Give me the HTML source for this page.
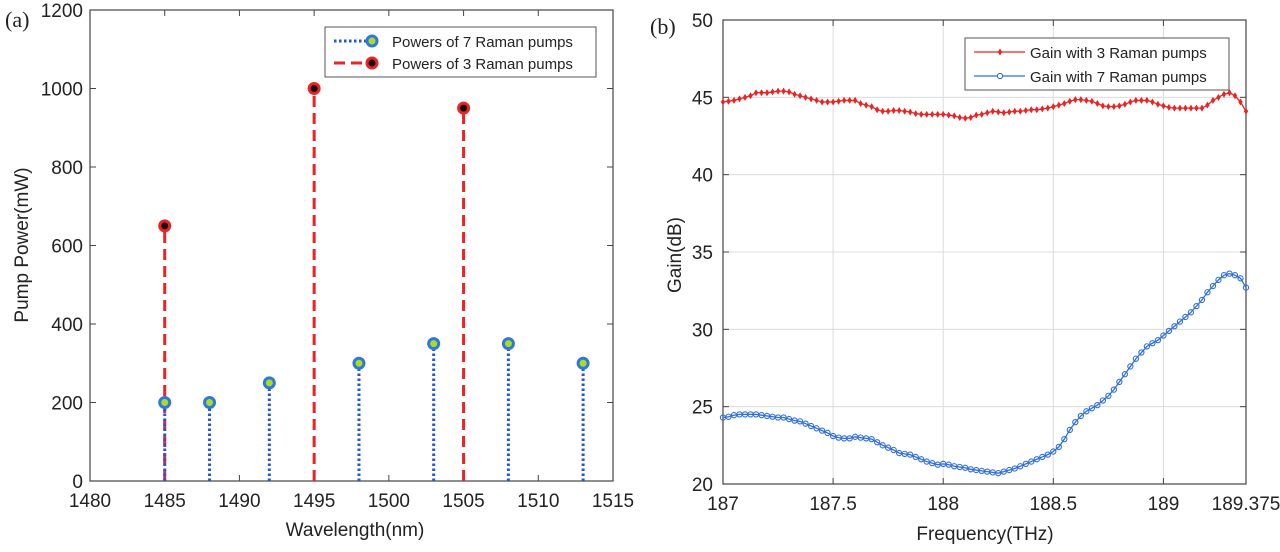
<!DOCTYPE html>
<html><head><meta charset="utf-8"><style>
html,body{margin:0;padding:0;background:#fff;width:1280px;height:552px;overflow:hidden}
svg{display:block;font-family:"Liberation Sans",sans-serif}
</style></head><body>
<svg id="fig" width="1280" height="552" viewBox="0 0 1280 552" xmlns="http://www.w3.org/2000/svg"></svg>
<script>
// ---- Chart (a) data ----
const wl7 = [1485, 1488, 1492, 1498, 1503, 1508, 1513];
const pw7 = [200, 200, 250, 300, 350, 350, 300];
const wl3 = [1485, 1495, 1505];
const pw3 = [650, 1000, 950];
const xTicksA = [1480, 1485, 1490, 1495, 1500, 1505, 1510, 1515];
const yTicksA = [0, 200, 400, 600, 800, 1000, 1200];
// ---- Chart (b) data ----
const freqStart = 187, freqStep = 0.025;
const gain3 = [44.7,44.75,44.8,44.9,45.0,45.1,45.3,45.3,45.3,45.35,45.4,45.4,45.35,45.2,45.1,45.0,44.9,44.8,44.7,44.7,44.7,44.75,44.8,44.8,44.8,44.6,44.5,44.4,44.2,44.1,44.1,44.15,44.15,44.1,44.05,43.95,43.9,43.9,43.9,43.9,43.9,43.85,43.8,43.7,43.65,43.7,43.85,43.9,44.0,44.1,44.05,44.0,44.05,44.1,44.1,44.15,44.2,44.2,44.25,44.3,44.4,44.5,44.6,44.75,44.85,44.85,44.8,44.75,44.6,44.45,44.4,44.4,44.45,44.55,44.7,44.8,44.8,44.8,44.7,44.55,44.45,44.35,44.3,44.3,44.3,44.3,44.3,44.3,44.5,44.8,45.0,45.2,45.3,45.1,44.7,44.1];
const gain7 = [24.3,24.35,24.45,24.5,24.5,24.5,24.5,24.45,24.4,24.35,24.3,24.3,24.2,24.1,24.05,23.9,23.75,23.6,23.45,23.3,23.1,23.0,22.95,22.95,23.05,23.0,22.95,22.9,22.7,22.5,22.35,22.2,22.0,21.95,21.9,21.75,21.6,21.45,21.35,21.25,21.3,21.25,21.15,21.1,21.05,20.95,20.9,20.85,20.8,20.75,20.7,20.8,20.9,21.0,21.15,21.3,21.45,21.6,21.75,21.9,22.1,22.4,22.9,23.5,24.0,24.4,24.7,24.9,25.1,25.4,25.7,26.1,26.6,27.1,27.6,28.1,28.5,28.9,29.1,29.3,29.6,29.9,30.2,30.5,30.8,31.1,31.5,31.9,32.4,32.8,33.2,33.5,33.6,33.5,33.3,32.7];
const xTicksB = [187, 187.5, 188, 188.5, 189, 189.375];
const yTicksB = [20, 25, 30, 35, 40, 45, 50];

const NS = "http://www.w3.org/2000/svg";
const svg = document.getElementById('fig');
function el(tag, attrs, parent, text) {
  const e = document.createElementNS(NS, tag);
  for (const k in attrs) e.setAttribute(k, attrs[k]);
  if (text !== undefined) e.textContent = text;
  (parent || svg).appendChild(e);
  return e;
}

// ===== Chart A =====
const A = {x0: 90, x1: 613, y0: 481, y1: 10};
const xA = v => A.x0 + (v - 1480) / 35 * (A.x1 - A.x0);
const yA = v => A.y0 - v / 1200 * (A.y0 - A.y1);
const gA = el('g', {});


let t = el('text', {x: 5, y: 27, 'font-family': '"Liberation Serif",serif', 'font-size': 22, fill: '#222'}, gA, '(a)');
 
let fr = el('rect', {x: A.x0, y: A.y1, width: A.x1 - A.x0, height: A.y0 - A.y1, fill: 'none', stroke: '#444', 'stroke-width': 1.2}, gA);
 
xTicksA.forEach(v => {
  const x = xA(v);
  el('line', {x1: x, x2: x, y1: A.y0, y2: A.y0 - 6, stroke: '#444'}, gA);
  el('line', {x1: x, x2: x, y1: A.y1, y2: A.y1 + 6, stroke: '#444'}, gA);
  const tt = el('text', {x: x, y: 507, 'text-anchor': 'middle', 'font-size': 19, fill: '#222'}, gA, String(v));
   
});
yTicksA.forEach(v => {
  const y = yA(v);
  el('line', {x1: A.x0, x2: A.x0 + 6, y1: y, y2: y, stroke: '#444'}, gA);
  el('line', {x1: A.x1, x2: A.x1 - 6, y1: y, y2: y, stroke: '#444'}, gA);
  const tt = el('text', {x: 83, y: y + 7, 'text-anchor': 'end', 'font-size': 19, fill: '#222'}, gA, String(v));
   
});
t = el('text', {x: 355, y: 536, 'text-anchor': 'middle', 'font-size': 19, fill: '#222'}, gA, 'Wavelength(nm)');
 
t = el('text', {x: 0, y: 0, 'text-anchor': 'middle', 'font-size': 19, fill: '#222', transform: 'translate(28,245) rotate(-90)'}, gA, 'Pump Power(mW)');
 
// red stems
wl3.forEach((w, i) => {
  const s = el('line', {x1: xA(w), x2: xA(w), y1: A.y0, y2: yA(pw3[i]), stroke: '#ee2222', 'stroke-width': 3, 'stroke-dasharray': '11 6'}, gA);
   
});
// blue stems
wl7.forEach((w, i) => {
  const s = el('line', {x1: xA(w), x2: xA(w), y1: A.y0, y2: yA(pw7[i]), stroke: '#2255dd', 'stroke-width': 3, 'stroke-dasharray': '2.5 2.5'}, gA);
   
});
wl3.forEach((w, i) => {
  const m = el('circle', {cx: xA(w), cy: yA(pw3[i]), r: 5, fill: '#111', stroke: '#ee2222', 'stroke-width': 3}, gA);
   
});
wl7.forEach((w, i) => {
  const m = el('circle', {cx: xA(w), cy: yA(pw7[i]), r: 5, fill: '#aadd22', stroke: '#2f77dd', 'stroke-width': 3}, gA);
   
});
// legend A
const lgA = el('g', {}, gA);
 
el('rect', {x: 325, y: 27, width: 271, height: 50, fill: '#fff', stroke: '#555', 'stroke-width': 1}, lgA);
el('line', {x1: 334, x2: 372, y1: 41, y2: 41, stroke: '#2255dd', 'stroke-width': 3, 'stroke-dasharray': '2.5 2.5'}, lgA);
el('circle', {cx: 372, cy: 41, r: 5, fill: '#aadd22', stroke: '#2f77dd', 'stroke-width': 3}, lgA);
t = el('text', {x: 392, y: 47, 'font-size': 15, fill: '#222'}, lgA, 'Powers of 7 Raman pumps');
 
el('line', {x1: 334, x2: 372, y1: 63, y2: 63, stroke: '#ee2222', 'stroke-width': 3, 'stroke-dasharray': '11 6'}, lgA);
el('circle', {cx: 372, cy: 63, r: 5, fill: '#111', stroke: '#ee2222', 'stroke-width': 3}, lgA);
t = el('text', {x: 392, y: 69, 'font-size': 15, fill: '#222'}, lgA, 'Powers of 3 Raman pumps');
 

// ===== Chart B =====
const B = {x0: 723, x1: 1246, y0: 484, y1: 20};
const xB = v => B.x0 + (v - 187) / 2.375 * (B.x1 - B.x0);
const yB = v => B.y0 - (v - 20) / 30 * (B.y0 - B.y1);
const gB = el('g', {});


t = el('text', {x: 650, y: 34, 'font-family': '"Liberation Serif",serif', 'font-size': 22, fill: '#222'}, gB, '(b)');
 
xTicksB.forEach(v => {
  const g = el('line', {x1: xB(v), x2: xB(v), y1: B.y0, y2: B.y1, stroke: '#dcdcdc', 'stroke-width': 1}, gB);
   
});
yTicksB.forEach(v => {
  const g = el('line', {x1: B.x0, x2: B.x1, y1: yB(v), y2: yB(v), stroke: '#dcdcdc', 'stroke-width': 1}, gB);
   
});
fr = el('rect', {x: B.x0, y: B.y1, width: B.x1 - B.x0, height: B.y0 - B.y1, fill: 'none', stroke: '#444', 'stroke-width': 1.2}, gB);
 
xTicksB.forEach(v => {
  const x = xB(v);
  el('line', {x1: x, x2: x, y1: B.y0, y2: B.y0 - 6, stroke: '#444'}, gB);
  el('line', {x1: x, x2: x, y1: B.y1, y2: B.y1 + 6, stroke: '#444'}, gB);
  const tt = el('text', {x: x, y: 510, 'text-anchor': 'middle', 'font-size': 19, fill: '#222'}, gB, String(v));
   
});
yTicksB.forEach(v => {
  const y = yB(v);
  el('line', {x1: B.x0, x2: B.x0 + 6, y1: y, y2: y, stroke: '#444'}, gB);
  el('line', {x1: B.x1, x2: B.x1 - 6, y1: y, y2: y, stroke: '#444'}, gB);
  const tt = el('text', {x: 713, y: y + 7, 'text-anchor': 'end', 'font-size': 19, fill: '#222'}, gB, String(v));
   
});
t = el('text', {x: 985, y: 540, 'text-anchor': 'middle', 'font-size': 19, fill: '#222'}, gB, 'Frequency(THz)');
 
t = el('text', {x: 0, y: 0, 'text-anchor': 'middle', 'font-size': 19, fill: '#222', transform: 'translate(681,255) rotate(-90)'}, gB, 'Gain(dB)');
 
function series(vals, color, name, marker) {
  const pts = vals.map((v, i) => xB(freqStart + i * freqStep).toFixed(2) + ',' + yB(v).toFixed(2)).join(' ');
  const pl = el('polyline', {points: pts, fill: 'none', stroke: color, 'stroke-width': 1.3}, gB);
   
  vals.forEach((v, i) => {
    const cx = xB(freqStart + i * freqStep), cy = yB(v);
    let m;
    if (marker === 'diamond') m = el('path', {d: `M${cx},${cy-3.5}L${cx+2.2},${cy}L${cx},${cy+3.5}L${cx-2.2},${cy}Z`, fill: color}, gB);
    else m = el('circle', {cx: cx, cy: cy, r: 2.6, fill: 'none', stroke: color, 'stroke-width': 1.1}, gB);
     
  });
}
series(gain3, '#ee2222', 'gain-3-pumps', 'diamond');
series(gain7, '#2f6fdd', 'gain-7-pumps', 'circle');
// legend B
const lgB = el('g', {}, gB);
 
el('rect', {x: 965, y: 38, width: 264, height: 52, fill: '#fff', stroke: '#555', 'stroke-width': 1}, lgB);
el('line', {x1: 974, x2: 1025, y1: 52, y2: 52, stroke: '#ee2222', 'stroke-width': 1.3}, lgB);
el('path', {d: 'M1000,48.5L1002.2,52L1000,55.5L997.8,52Z', fill: '#ee2222'}, lgB);
t = el('text', {x: 1030, y: 58, 'font-size': 15, fill: '#222'}, lgB, 'Gain with 3 Raman pumps');
 
el('line', {x1: 974, x2: 1025, y1: 76, y2: 76, stroke: '#2f6fdd', 'stroke-width': 1.3}, lgB);
el('circle', {cx: 1000, cy: 76, r: 2.6, fill: '#fff', stroke: '#2f6fdd', 'stroke-width': 1.1}, lgB);
t = el('text', {x: 1030, y: 82, 'font-size': 15, fill: '#222'}, lgB, 'Gain with 7 Raman pumps');
 
</script>
</body></html>
